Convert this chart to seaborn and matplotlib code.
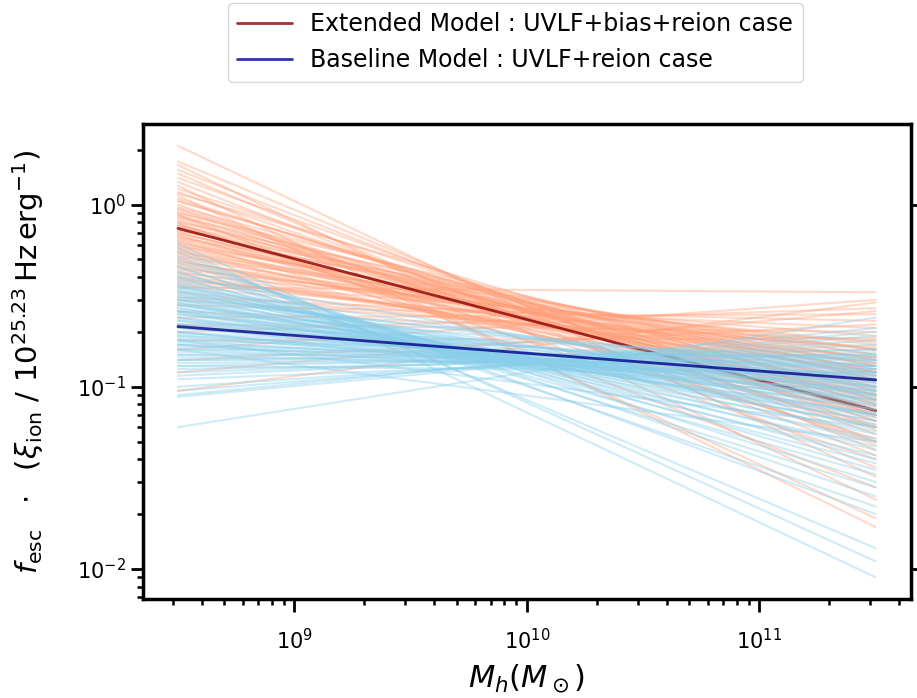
import numpy as np
import pandas as pd
import matplotlib
matplotlib.use("Agg")
import matplotlib.pyplot as plt
import seaborn as sns

# halo mass range of the curves
mh_ends = [10**8.5, 10**11.5]

# posterior sample lines, value at low mass end / high mass end
ext_left = [2.10, 1.72, 1.65, 1.55, 1.48, 1.40, 1.33, 1.27, 1.22, 1.17, 1.12, 1.08,
            1.04, 1.00, 0.97, 0.94, 0.91, 0.88, 0.86, 0.83, 0.81, 0.79, 0.77, 0.75,
            0.73, 0.71, 0.69, 0.67, 0.65, 0.63, 0.61, 0.60, 0.58, 0.56, 0.55, 0.53,
            0.51, 0.50, 0.48, 0.46, 0.45, 0.43, 0.42, 0.40, 0.38, 0.36, 0.35, 0.33,
            0.31, 0.30, 0.28, 0.26, 0.24, 0.22, 0.20, 0.18, 0.16, 0.14, 0.12, 0.095,
            0.95, 0.90, 0.85, 0.80, 0.76, 0.72, 0.70, 0.66, 0.64, 0.62, 0.59, 0.57,
            0.54, 0.52, 0.49, 0.47, 0.44, 0.41, 0.39, 0.37, 0.68, 0.78, 0.88, 1.05, 1.15]
ext_right = [0.032, 0.045, 0.024, 0.050, 0.036, 0.060, 0.042, 0.017, 0.070, 0.055, 0.019, 0.065,
             0.080, 0.048, 0.090, 0.058, 0.075, 0.028, 0.100, 0.068, 0.085, 0.040, 0.110, 0.072,
             0.095, 0.062, 0.120, 0.082, 0.105, 0.052, 0.130, 0.088, 0.115, 0.070, 0.140, 0.098,
             0.125, 0.078, 0.150, 0.092, 0.160, 0.108, 0.175, 0.122, 0.190, 0.135, 0.330, 0.145,
             0.210, 0.165, 0.230, 0.180, 0.250, 0.200, 0.270, 0.185, 0.300, 0.220, 0.260, 0.290,
             0.070, 0.110, 0.080, 0.120, 0.095, 0.130, 0.085, 0.140, 0.090, 0.115, 0.150, 0.100,
             0.125, 0.160, 0.110, 0.135, 0.170, 0.120, 0.145, 0.160, 0.060, 0.050, 0.065, 0.075, 0.085]

base_left = [0.61, 0.58, 0.55, 0.52, 0.50, 0.48, 0.46, 0.45, 0.43, 0.42, 0.40, 0.39,
             0.38, 0.37, 0.36, 0.35, 0.34, 0.33, 0.32, 0.31, 0.30, 0.29, 0.285, 0.28,
             0.27, 0.26, 0.255, 0.25, 0.24, 0.235, 0.23, 0.22, 0.215, 0.21, 0.20, 0.195,
             0.19, 0.185, 0.18, 0.175, 0.17, 0.165, 0.16, 0.155, 0.15, 0.145, 0.14, 0.135,
             0.13, 0.125, 0.12, 0.115, 0.11, 0.10, 0.095, 0.09, 0.088, 0.06, 0.30, 0.26,
             0.22, 0.40, 0.35, 0.18, 0.16,
             0.34, 0.32, 0.30, 0.28, 0.27, 0.25, 0.24, 0.23, 0.22, 0.21, 0.20, 0.19,
             0.18, 0.17, 0.16, 0.33, 0.29, 0.26, 0.36, 0.31, 0.20, 0.17, 0.15, 0.14, 0.13]
base_right = [0.011, 0.009, 0.013, 0.020, 0.025, 0.030, 0.022, 0.035, 0.028, 0.040, 0.033, 0.045,
              0.038, 0.050, 0.042, 0.055, 0.047, 0.060, 0.052, 0.065, 0.057, 0.070, 0.062, 0.075,
              0.068, 0.080, 0.072, 0.085, 0.078, 0.090, 0.083, 0.095, 0.088, 0.100, 0.092, 0.105,
              0.098, 0.110, 0.102, 0.115, 0.108, 0.120, 0.112, 0.125, 0.118, 0.130, 0.135, 0.140,
              0.150, 0.145, 0.160, 0.170, 0.155, 0.180, 0.190, 0.210, 0.200, 0.240, 0.120, 0.130,
              0.140, 0.090, 0.100, 0.060, 0.050,
              0.070, 0.090, 0.075, 0.100, 0.085, 0.110, 0.095, 0.120, 0.105, 0.130, 0.115, 0.125,
              0.140, 0.130, 0.145, 0.080, 0.065, 0.070, 0.060, 0.110, 0.085, 0.095, 0.150, 0.160, 0.120]

# best-fit curves
ext_best = [0.74, 0.074]
base_best = [0.214, 0.109]

labels = ["Extended Model : UVLF+bias+reion case",
          "Baseline Model : UVLF+reion case"]


def samples_df(left, right):
    rows = []
    for i, (a, b) in enumerate(zip(left, right)):
        rows.append({"line": i, "Mh": mh_ends[0], "f": a})
        rows.append({"line": i, "Mh": mh_ends[1], "f": b})
    return pd.DataFrame(rows)


sns.set_style("ticks")
plt.rcParams.update({
    "font.family": ["DejaVu Sans"],
    "text.color": "black",
    "axes.labelcolor": "black",
    "axes.edgecolor": "black",
    "xtick.color": "black",
    "ytick.color": "black",
})

fig = plt.figure(figsize=(9.17, 6.98), dpi=100)
ax = fig.add_axes([0.156, 0.142, 0.837, 0.680])
ax.set_xscale("log")
ax.set_yscale("log")

sns.lineplot(data=samples_df(ext_left, ext_right), x="Mh", y="f", units="line",
             estimator=None, color="lightsalmon", alpha=0.4, lw=1.5, ax=ax)
sns.lineplot(x=mh_ends, y=ext_best, color="darkred", alpha=0.8, lw=2,
             label=labels[0], ax=ax)
sns.lineplot(data=samples_df(base_left, base_right), x="Mh", y="f", units="line",
             estimator=None, color="skyblue", alpha=0.4, lw=1.5, ax=ax)
sns.lineplot(x=mh_ends, y=base_best, color="darkblue", alpha=0.8, lw=2,
             label=labels[1], ax=ax)

ax.set_xlabel(r"$M_h (M_\odot)$", fontsize=22, labelpad=7)
ax.set_ylabel(r"$f_{\rm esc}\ \ \cdot\ \ (\xi_{\rm ion}\ /\ 10^{25.23}\,{\rm Hz\,erg^{-1}})$",
              fontsize=21, labelpad=22)

for s in ax.spines.values():
    s.set_linewidth(2.5)
    s.set_color("black")
ax.tick_params(which="major", length=9, width=2, labelsize=15, direction="out")
ax.tick_params(axis="x", which="major", pad=12)
ax.tick_params(which="minor", length=4.5, width=1.8, direction="out")
ax.tick_params(axis="y", which="major", right=True)
ax.tick_params(axis="y", which="minor", right=False)

ax.legend(loc="lower center", bbox_to_anchor=(0.485, 1.065), fontsize=17,
          frameon=True, handlelength=2.3)

fig.savefig("out.png", dpi=100)
